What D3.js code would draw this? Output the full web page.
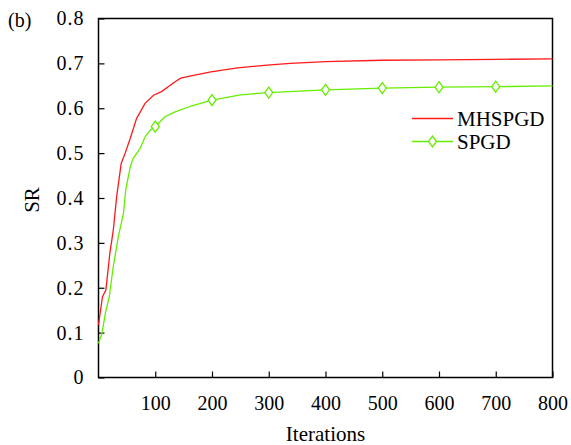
<!DOCTYPE html>
<html><head><meta charset="utf-8">
<script src="https://cdn.jsdelivr.net/npm/d3@7"></script>
<style>body{margin:0;background:#fff}svg{display:block}</style>
</head><body>
<svg id="c" width="571" height="445"></svg>
<script>
const xTicks = [100, 200, 300, 400, 500, 600, 700, 800];
const yTicks = [0, 0.1, 0.2, 0.3, 0.4, 0.5, 0.6, 0.7, 0.8];
const redIter = [0, 7, 13, 20, 26, 32, 40, 47, 56, 67, 82, 97, 111, 135, 145, 163, 198, 245, 297, 338, 400, 500, 600, 700, 800];
const redVal = [0.117, 0.18, 0.195, 0.277, 0.328, 0.403, 0.477, 0.50, 0.533, 0.577, 0.611, 0.629, 0.637, 0.659, 0.667, 0.672, 0.681, 0.690, 0.696, 0.700, 0.704, 0.707, 0.708, 0.709, 0.710];
const greenIter = [0, 6, 12, 19, 26, 35, 44, 48, 56, 61, 73, 82, 91, 100, 117, 135, 163, 200, 250, 300, 400, 500, 600, 700, 800];
const greenVal = [0.076, 0.098, 0.143, 0.18, 0.247, 0.314, 0.366, 0.418, 0.47, 0.488, 0.51, 0.536, 0.551, 0.559, 0.581, 0.592, 0.605, 0.618, 0.630, 0.635, 0.641, 0.645, 0.647, 0.648, 0.650];
const markerIter = [100, 200, 300, 400, 500, 600, 700];
const seriesNames = ["MHSPGD", "SPGD"];
const colors = ["#ff1a1a", "#66ee00"];
const FONT = "'Liberation Serif'";

const svg = d3.select("#c");
const L = 98.5, R = 552.5, T = 18.5, B = 377.5;
const x = d3.scaleLinear().domain([0, 800]).range([L, R]);
const y = d3.scaleLinear().domain([0, 0.8]).range([B, T]);

svg.append("rect").attr("x", L).attr("y", T).attr("width", R - L).attr("height", B - T)
  .attr("fill", "none").attr("stroke", "#000").attr("stroke-width", 1.5);

const xa = svg.append("g").attr("transform", `translate(0,${B})`)
  .call(d3.axisBottom(x).tickValues(xTicks).tickSizeInner(-6).tickSizeOuter(0).tickPadding(14).tickFormat(d3.format("d")));
const ya = svg.append("g").attr("transform", `translate(${L},0)`)
  .call(d3.axisLeft(y).tickValues(yTicks).tickSizeInner(-6).tickSizeOuter(0).tickPadding(14).tickFormat(d => d === 0 ? "0" : d3.format(".1f")(d)));
[xa, ya].forEach(g => {
  g.attr("font-family", FONT).attr("font-size", 20);
  g.select(".domain").remove();
  g.selectAll(".tick line").attr("stroke", "#000").attr("stroke-width", 1.2);
  g.selectAll("text").style("font-family", FONT).style("font-size", "20px").attr("fill", "#000");
});
xa.selectAll("text").attr("dy", "0.71em").attr("y", 18);
ya.selectAll("text").style("letter-spacing", "1px");

const line = d3.line().x(d => x(d[0])).y(d => y(d[1]));
const redData = redIter.map((t, i) => [t, redVal[i]]);
const greenData = greenIter.map((t, i) => [t, greenVal[i]]);
svg.append("path").datum(redData).attr("d", line).attr("fill", "none").attr("stroke", colors[0]).attr("stroke-width", 1.3);
svg.append("path").datum(greenData).attr("d", line).attr("fill", "none").attr("stroke", colors[1]).attr("stroke-width", 1.3);

const diamond = (cx, cy) => `M${cx},${cy - 5.5}L${cx + 4},${cy}L${cx},${cy + 5.5}L${cx - 4},${cy}Z`;
svg.selectAll(".mk").data(greenData.filter(d => markerIter.includes(d[0]))).enter().append("path")
  .attr("d", d => diamond(x(d[0]), y(d[1]))).attr("fill", "#fff").attr("stroke", colors[1]).attr("stroke-width", 1.3);

const lg = svg.append("g");
const ly = [118.5, 141.5];
seriesNames.forEach((n, i) => {
  lg.append("line").attr("x1", 412).attr("x2", 453).attr("y1", ly[i]).attr("y2", ly[i]).attr("stroke", colors[i]).attr("stroke-width", 1.3);
  lg.append("text").attr("x", 457).attr("y", ly[i] + 7).style("font-family", FONT).style("font-size", "21px").text(n);
});
lg.append("path").attr("d", diamond(432.5, ly[1])).attr("fill", "#fff").attr("stroke", colors[1]).attr("stroke-width", 1.3);

svg.append("text").attr("x", x(400)).attr("y", 441).attr("text-anchor", "middle").style("font-family", FONT).style("font-size", "21px").text("Iterations");
svg.append("text").attr("transform", `translate(39,200) rotate(-90)`).attr("text-anchor", "middle").style("font-family", FONT).style("font-size", "21px").text("SR");
svg.append("text").attr("x", 8).attr("y", 27).style("font-family", FONT).style("font-size", "20px").text("(b)");
</script>
</body></html>
